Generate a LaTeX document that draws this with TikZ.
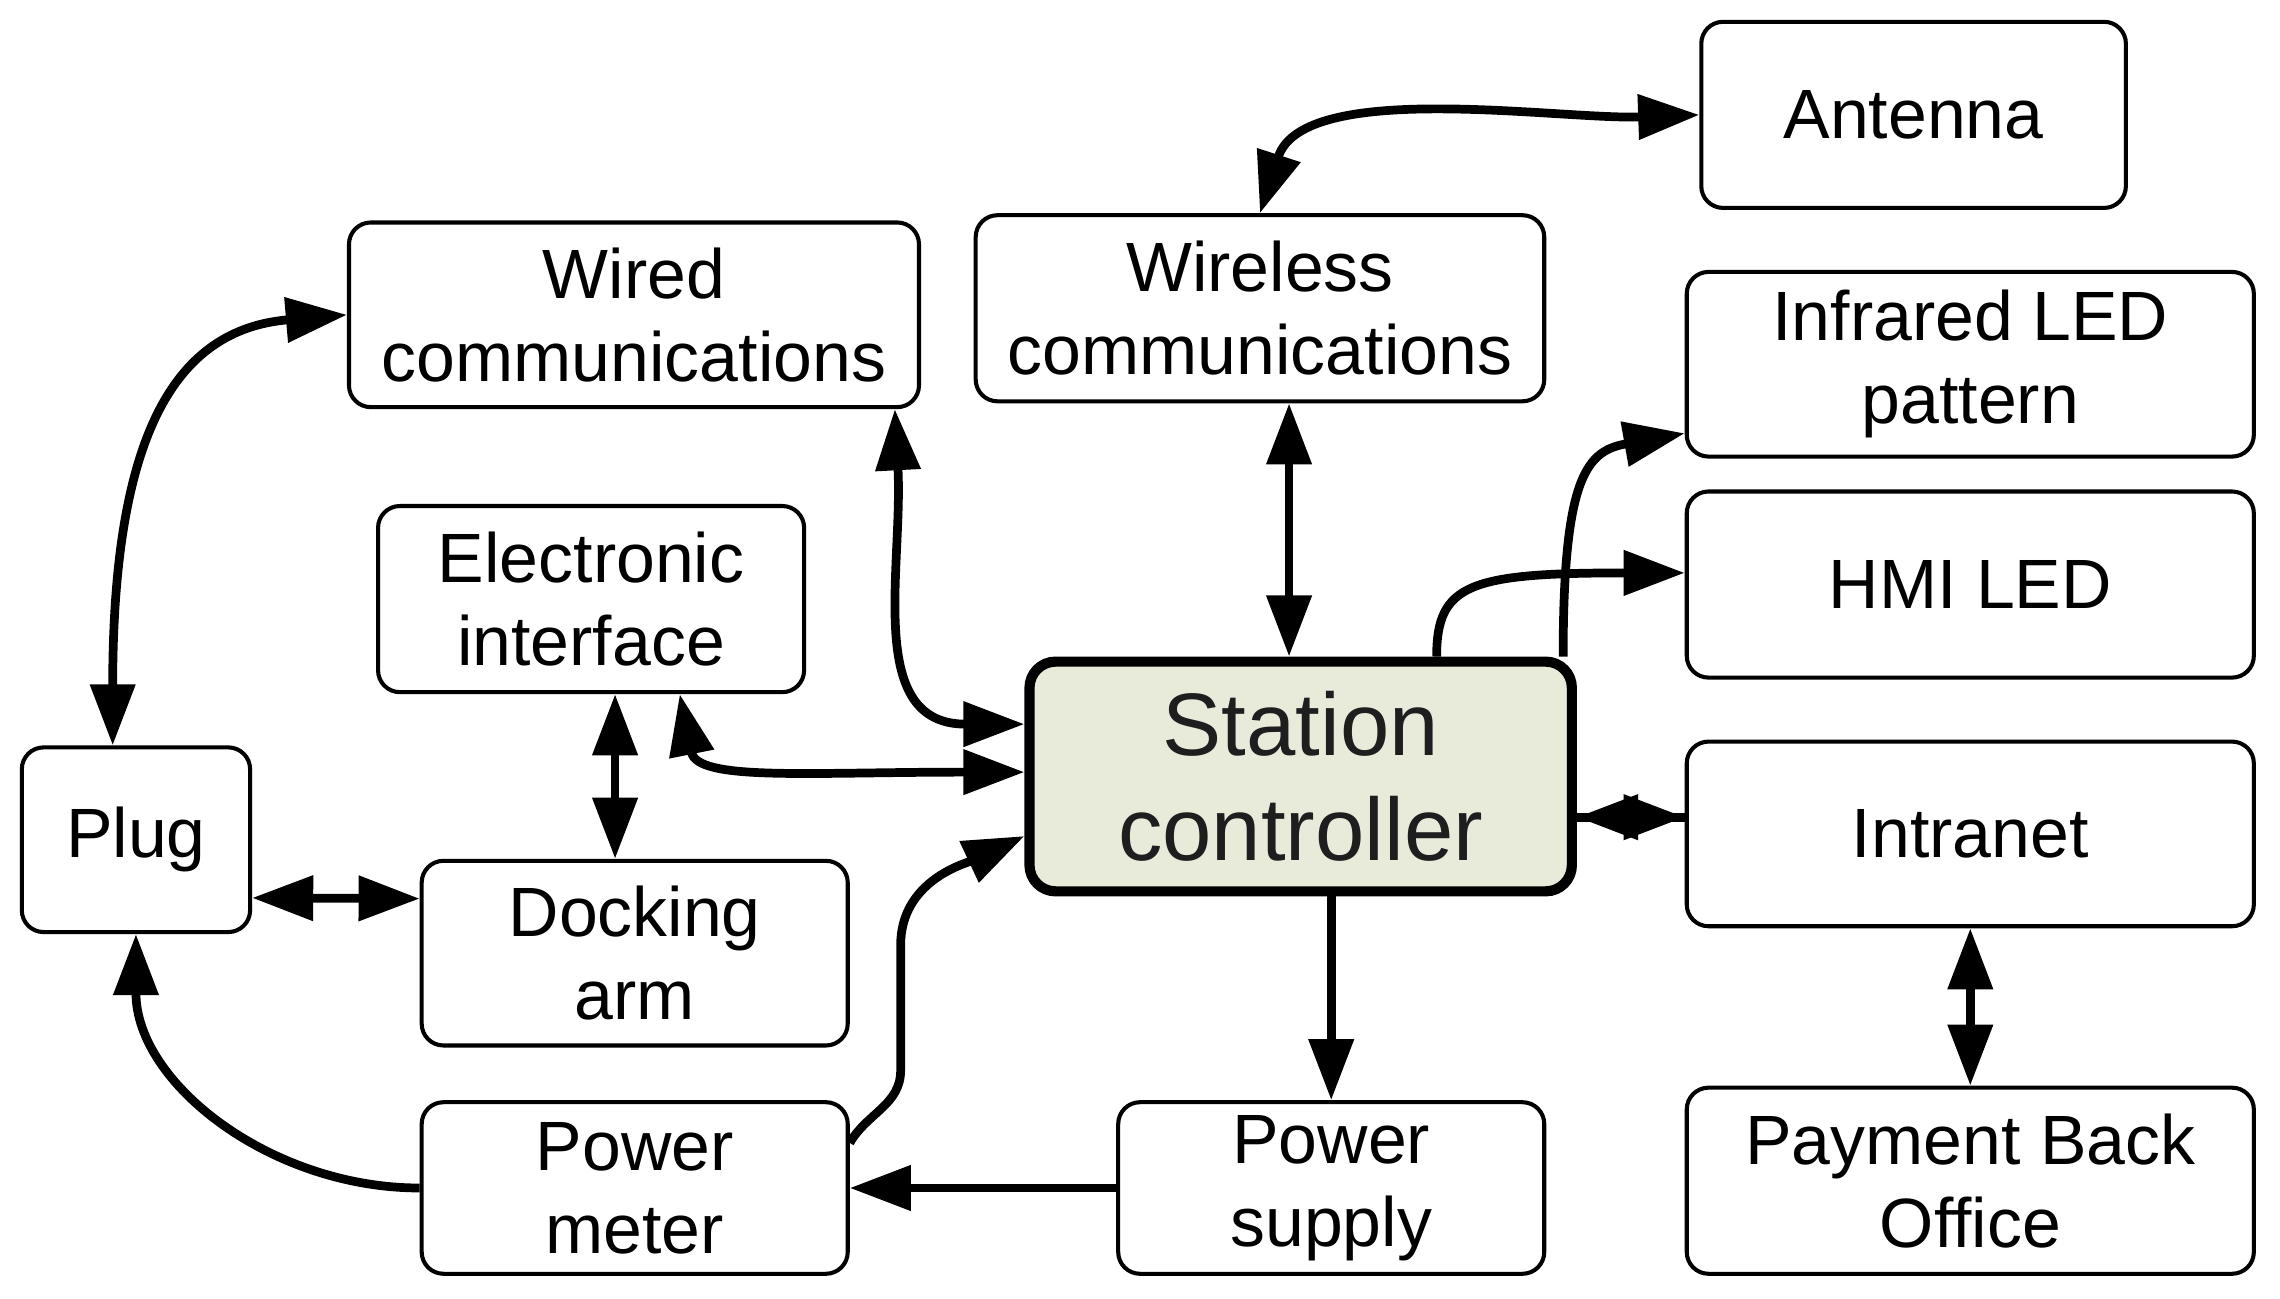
\documentclass[tikz,border=0pt]{standalone}
\usepackage{fontspec}
\setmainfont{Liberation Sans}
\usetikzlibrary{arrows.meta}
\definecolor{scfill}{RGB}{232,234,218}
\definecolor{sctext}{RGB}{30,30,30}
\begin{document}
\begin{tikzpicture}[x=1pt,y=-1pt,
  box/.style={draw, line width=2.8pt, rounded corners=15pt, align=center, inner sep=0pt,
    font=\fontsize{48}{57}\selectfont},
  mainbox/.style={draw, line width=7pt, rounded corners=18pt, align=center, inner sep=0pt,
    fill=scfill, text=sctext, font=\fontsize{61}{72}\selectfont},
  arr/.style={line width=6pt, -{Triangle[length=42pt,width=30pt]}},
  dbl/.style={line width=6pt, {Triangle[length=42pt,width=30pt]}-{Triangle[length=42pt,width=30pt]}}
]
\useasboundingbox (0,0) rectangle (1568,893);
\fill[white] (0,0) rectangle (1568,893);

\node[box, minimum width=292pt, minimum height=128pt] (ant)   at (1316,79)    {Antenna};
\node[box, minimum width=392pt, minimum height=127pt] (wired) at (436,216.5)  {Wired\\communications};
\node[box, minimum width=391pt, minimum height=128pt] (wless) at (866.5,212)  {Wireless\\communications};
\node[box, minimum width=390pt, minimum height=127pt] (ir)    at (1355,250.5) {Infrared LED\\pattern};
\node[box, minimum width=293pt, minimum height=128pt] (ei)    at (406.5,412)  {Electronic\\interface};
\node[box, minimum width=390pt, minimum height=128pt] (hmi)   at (1355,402)   {HMI LED};
\node[mainbox, minimum width=373pt, minimum height=158pt] (sc) at (894.5,534) {Station\\controller};
\node[box, minimum width=157pt, minimum height=127pt] (plug)  at (93.5,577.5) {Plug};
\node[box, minimum width=293pt, minimum height=127pt] (dock)  at (436.5,655.5) {Docking\\arm};
\node[box, minimum width=390pt, minimum height=127pt] (intra) at (1355,573.5) {Intranet};
\node[box, minimum width=293pt, minimum height=118pt] (pm)    at (436.5,817)  {Power\\meter};
\node[box, minimum width=293pt, minimum height=118pt] (ps)    at (915.5,817)  {Power\\supply};
\node[box, minimum width=390pt, minimum height=128pt] (pbo)   at (1355,812)   {Payment Back\\Office};

% connectors
\draw[dbl] (wless.north) to[out=72, in=182, looseness=0.8] (ant.west);
\draw[dbl] (wired.west) .. controls +(-118,10) and +(0,-214) .. ([xshift=-16pt]plug.north);
\draw[dbl] ([xshift=-18pt]wired.south east) to[out=-87, in=180, looseness=1.2] ([yshift=36pt]sc.west);
\draw[dbl] ([xshift=20pt]wless.south) -- ([xshift=-8pt]sc.north);
\draw[dbl] ([xshift=61pt]ei.south) .. controls +(12,60) and +(-150,0) .. ([yshift=3pt]sc.west);
\draw[dbl] ([xshift=16.5pt]ei.south) -- ([xshift=-13.5pt]dock.north);
\draw[dbl] ([yshift=-40pt]plug.east) -- ([yshift=37.5pt]dock.west);
\draw[arr] (pm.west) to[out=180, in=-90] (plug.south);
\draw[arr] ([yshift=31pt]pm.east) to[out=60, in=-90] ++(35,-50) -- ++(0,-86)
  to[out=90, in=205] ([yshift=-41pt]sc.west);
\draw[arr] ([xshift=21pt]sc.south) -- (ps.north);
\draw[arr] (ps.west) -- (pm.east);
\draw[arr] ([xshift=93.5pt]sc.north) .. controls +(0,-50) and +(-148,0) .. ([yshift=8pt]hmi.west);
\draw[arr] ([xshift=180.5pt]sc.north) .. controls +(0,-125) and +(-67,12) .. ([yshift=-47.5pt]ir.west);
\draw[arr] ([yshift=11.5pt]intra.west) -- ([yshift=-28pt]sc.east);
\draw[arr] ([yshift=-28pt]sc.east) -- ([yshift=11.5pt]intra.west);
\draw[dbl] (intra.south) -- (pbo.north);
\end{tikzpicture}
\end{document}
